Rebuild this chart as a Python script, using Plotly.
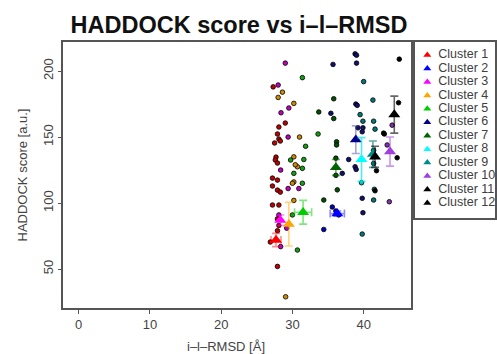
import plotly.graph_objects as go

clusters = ["Cluster %d" % i for i in range(1, 13)]
colors = ["#ff0000", "#0000ff", "#ff00ff", "#ffa500", "#00cc00", "#00008b",
          "#006400", "#00ffff", "#008b8b", "#a040e0", "#000000", "#000000"]
dot_colors = ["#c00000", "#0000c0", "#c000c0", "#d08a00", "#10a010", "#101070",
              "#005000", "#00c0c0", "#007878", "#8030b0", "#000000", "#000000"]
err_colors = ["rgba(255,0,0,0.45)", "rgba(0,0,255,0.45)", "rgba(255,0,255,0.45)",
              "rgba(255,165,0,0.5)", "rgba(0,204,0,0.5)", "rgba(60,60,160,0.45)",
              "rgba(0,100,0,0.55)", "rgba(0,230,230,0.7)", "rgba(0,110,110,0.6)",
              "rgba(160,64,224,0.55)", "rgba(0,0,0,0.6)", "rgba(0,0,0,0.6)"]

# cluster means and errors
mean_x = [27.7, 36.3, 28.3, 29.5, 31.5, 38.9, 36.1, 39.7, 41.3, 43.7, 41.6, 44.3]
mean_y = [72, 92, 87, 84, 93, 148, 127, 133, 137, 139, 135, 167]
err_y = [5, 2, 4, 16.5, 9, 10.5, 6, 16.6, 10, 11, 8, 14]
err_x = [0.7, 1.0, 0, 0, 1.2, 0, 0, 0, 0, 0, 0, 0]

# individual structures per cluster
c1_x = [27.3, 29.0, 28.1, 27.9, 28.1, 28.3, 27.5, 27.7, 27.6, 27.9, 27.2, 27.9, 27.2, 27.9, 28.3, 27.2, 28.1, 27.9, 28.1, 27.9, 26.9, 27.9]
c1_y = [188, 160.6, 157.6, 152.3, 148.5, 147, 145.5, 134.8, 132.6, 130.3, 118.9, 117.4, 112.9, 109.8, 108.3, 98.5, 98.5, 88, 83, 79, 70.5, 52]
c2_x = [34.4, 35.6, 36.1, 36.5]
c2_y = [80, 97, 94, 91]
c3_x = [29.0, 28.0, 29.5, 28.4, 29.4, 28.35, 29.4, 30.9, 28.1, 29.2, 28.35]
c3_y = [206, 189.4, 172, 168.4, 150, 125, 111, 111, 91, 81, 67]
c4_x = [28.6, 28.0, 30.2, 31.0, 30.2, 30.7, 30.4, 30.2, 30.0, 30.2, 29.05]
c4_y = [184, 180, 175.5, 150, 135, 127.5, 129, 116, 115, 102, 29]
c5_x = [31.4, 33.6, 31.85, 29.75, 31.6, 30.2, 31.4, 30.7, 31.4, 30.0]
c5_y = [195, 152.3, 143, 132.6, 133, 122.5, 115, 64.4, 126.3, 91]
c6_x = [35.7, 38.8, 39.0, 39.0, 35.4, 38.9, 39.1, 39.2, 39.9, 37.9, 38.8, 38.95, 37.0, 39.8, 39.8, 39.9]
c6_y = [205, 213, 212, 206, 168, 175, 174, 157, 157, 133, 127.5, 125.5, 122.5, 154, 103.6, 92.7]
c7_x = [35.8, 33.7, 35.8, 36.2, 36.2, 36.1, 36.1, 36.3, 34.4]
c7_y = [179, 169, 164, 146.4, 144, 134, 121, 110, 102.3]
c8_x = [39.7]
c8_y = [115.4]
c9_x = [40.0, 41.3, 39.5, 39.9, 41.4, 41.6, 41.5, 41.4, 39.8, 41.4, 41.4]
c9_y = [192, 178, 167, 162, 162, 156, 110.4, 102.3, 76.5, 130, 140]
c10_x = [44.0, 43.3, 43.6]
c10_y = [159, 144, 101]
c11_x = [42.9, 42.8, 41.6, 41.8]
c11_y = [152.3, 153, 109.3, 124.5]
c12_x = [45.0, 44.9, 44.7]
c12_y = [209, 176, 134.3]

dots_x = [c1_x, c2_x, c3_x, c4_x, c5_x, c6_x, c7_x, c8_x, c9_x, c10_x, c11_x, c12_x]
dots_y = [c1_y, c2_y, c3_y, c4_y, c5_y, c6_y, c7_y, c8_y, c9_y, c10_y, c11_y, c12_y]

x_ticks = [0, 10, 20, 30, 40]
y_ticks = [50, 100, 150, 200]

FONT = "Liberation Sans, Arial, sans-serif"
fig = go.Figure()

for i in range(12):
    fig.add_trace(go.Scatter(
        x=dots_x[i], y=dots_y[i], mode="markers", showlegend=False,
        marker=dict(symbol="circle", size=4.6, color=dot_colors[i],
                    line=dict(color="rgba(0,0,0,0.8)", width=1)),
        xaxis="x", yaxis="y"))

for i in range(12):
    fig.add_trace(go.Scatter(
        x=[mean_x[i]], y=[mean_y[i]], mode="markers", showlegend=False,
        marker=dict(symbol="triangle-up", size=10.5, color=colors[i]),
        error_y=dict(type="data", array=[err_y[i]], color=err_colors[i],
                     thickness=1.6, width=4),
        error_x=dict(type="data", array=[err_x[i]], color=err_colors[i],
                     thickness=1.6, width=4, visible=err_x[i] > 0),
        xaxis="x", yaxis="y"))

# legend panel drawn as a small scatter
fig.add_trace(go.Scatter(
    x=[12] * len(clusters), y=list(range(len(clusters))),
    mode="markers", marker=dict(symbol="triangle-up", size=7, color=colors),
    showlegend=False, hoverinfo="skip", xaxis="x2", yaxis="y2"))
fig.add_trace(go.Scatter(
    x=[23] * len(clusters), y=list(range(len(clusters))),
    mode="text", text=clusters, textposition="middle right",
    textfont=dict(size=12.5, color="#404040", family=FONT),
    showlegend=False, hoverinfo="skip", xaxis="x2", yaxis="y2"))

W, H = 497, 354
L, T, B = 63, 42, 46
plot_w = W - L
main_right = (413 - L) / plot_w
leg_left = (417 - L) / plot_w
plot_h = H - T - B
leg_bottom = (308 - 218) / plot_h

axis_line = dict(showline=True, linecolor="#555555", linewidth=1.5, mirror=True,
                 showgrid=False, zeroline=False)

fig.update_layout(
    width=W, height=H,
    margin=dict(l=L, r=0, t=T, b=B),
    paper_bgcolor="white", plot_bgcolor="white",
    font=dict(family=FONT, color="#444444"),
    title=dict(text="<b>HADDOCK score vs i–l–RMSD</b>", x=239 / W, xanchor="center",
               y=1 - 25 / H, yanchor="middle",
               font=dict(size=23.5, color="#111111", family=FONT)),
    xaxis=dict(domain=[0, main_right], range=[-2.2, 46.7], tickvals=x_ticks,
               ticks="outside", ticklen=4, tickcolor="#555555",
               tickfont=dict(size=13, color="#444444"),
               **axis_line),
    yaxis=dict(domain=[0, 1], range=[20.5, 222], tickvals=y_ticks,
               ticks="outside", ticklen=3, tickcolor="#555555", tickangle=-90,
               tickfont=dict(size=13, color="#444444"),
               title=dict(text="HADDOCK score [a.u.]", font=dict(size=13, color="#444444"), standoff=10),
               **axis_line),
    xaxis2=dict(domain=[leg_left, 1], range=[0, 80], showticklabels=False, ticks="",
                fixedrange=True, anchor="y2", **axis_line),
    yaxis2=dict(domain=[leg_bottom, 1], range=[12.12, -0.97], showticklabels=False, ticks="",
                fixedrange=True, anchor="x2", **axis_line),
    annotations=[dict(text="i–l–RMSD [Å]", xref="paper", yref="paper",
                      x=(227 - L) / plot_w, y=-(346 - (H - B)) / plot_h,
                      xanchor="center", yanchor="middle", showarrow=False,
                      font=dict(size=13, color="#444444", family=FONT))],
)

fig.write_html("out.html")
